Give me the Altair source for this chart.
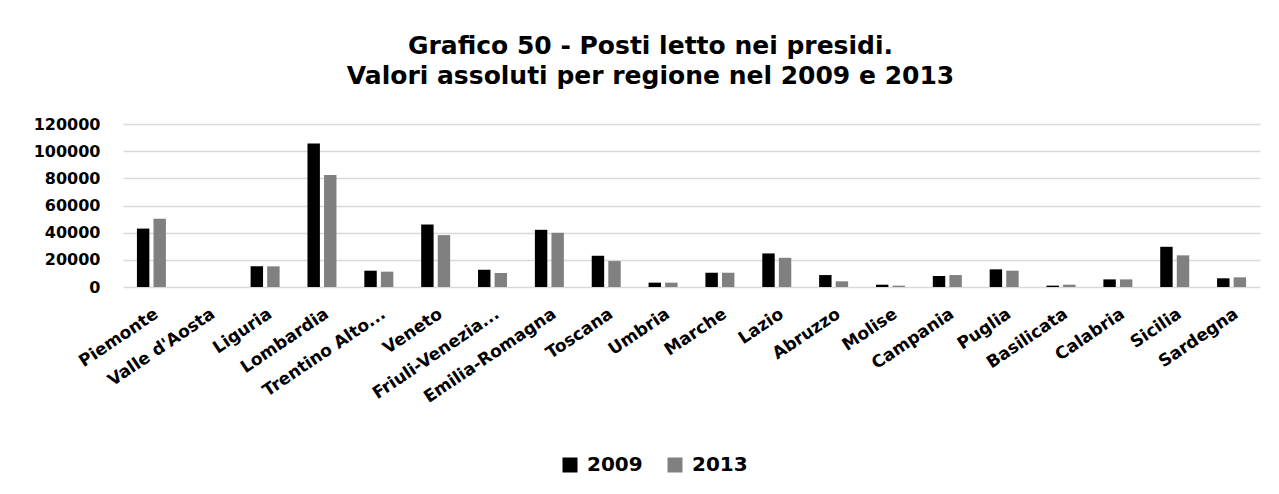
import altair as alt
import pandas as pd

regions = ["Piemonte", "Valle d'Aosta", "Liguria", "Lombardia", "Trentino Alto...",
           "Veneto", "Friuli-Venezia...", "Emilia-Romagna", "Toscana", "Umbria",
           "Marche", "Lazio", "Abruzzo", "Molise", "Campania", "Puglia",
           "Basilicata", "Calabria", "Sicilia", "Sardegna"]
v2009 = [43000, 0, 15200, 105600, 12000, 46000, 12700, 42100, 23000, 3200,
         10500, 24700, 8800, 1700, 8100, 13000, 1000, 5600, 29600, 6400]
v2013 = [50200, 0, 15200, 82500, 11300, 38200, 10300, 39900, 19100, 3200,
         10500, 21500, 4200, 1000, 8800, 12000, 1700, 5600, 23300, 7100]
years = ["2009", "2013"]
colors = ["#000000", "#808080"]
y_ticks = [0, 20000, 40000, 60000, 80000, 100000, 120000]

rows = []
for r, a, b in zip(regions, v2009, v2013):
    rows.append({"regione": r, "anno": "2009", "valore": a})
    rows.append({"regione": r, "anno": "2013", "valore": b})
df = pd.DataFrame(rows)

FONT = "DejaVu Sans"

chart = alt.Chart(df).mark_bar().encode(
    x=alt.X("regione:N", sort=regions,
            scale=alt.Scale(paddingInner=0.49, paddingOuter=0.245),
            axis=alt.Axis(title=None, labelAngle=-34, labelAlign="right",
                          labelBaseline="middle", labelPadding=25, labelOffset=5,
                          labelFont=FONT, labelFontWeight="bold", labelFontSize=17,
                          labelColor="#000000", domain=False, ticks=False,
                          labelLimit=300)),
    xOffset=alt.XOffset("anno:N", scale=alt.Scale(paddingInner=0.25, paddingOuter=0)),
    y=alt.Y("valore:Q", scale=alt.Scale(domain=[0, 120000], nice=False),
            axis=alt.Axis(title=None, values=y_ticks, format="d",
                          labelFont=FONT, labelFontWeight="bold", labelFontSize=16,
                          labelColor="#000000", labelPadding=23,
                          domain=False, ticks=False,
                          gridColor="#d9d9d9", gridWidth=1.5)),
    color=alt.Color("anno:N", scale=alt.Scale(domain=years, range=colors),
                    legend=alt.Legend(title=None, orient="none", direction="horizontal",
                                      legendX=437, legendY=331,
                                      symbolType="square", symbolSize=225,
                                      symbolStrokeWidth=0, symbolOpacity=1,
                                      labelFont=FONT, labelFontWeight="bold",
                                      labelFontSize=20, labelColor="#000000",
                                      labelOffset=7, columnPadding=22)),
).properties(
    width=1137,
    height=163,
    title=alt.TitleParams(
        text=["Grafico 50 - Posti letto nei presidi.",
              "Valori assoluti per regione nel 2009 e 2013"],
        font=FONT, fontSize=25, fontWeight="bold", color="#000000",
        anchor="middle", dx=-41, offset=27, lineHeight=30),
    autosize=alt.AutoSizeParams(type="none"),
    padding={"left": 115, "top": 116, "right": 11, "bottom": 199},
).configure(background="white").configure_view(stroke=None)

chart.save("out.html", embed_options={"renderer": "svg", "actions": False})
